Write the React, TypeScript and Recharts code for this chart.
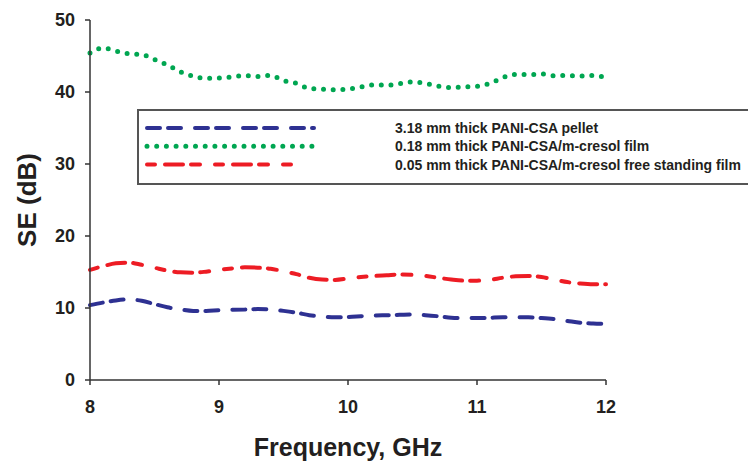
import { LineChart, Line, XAxis, YAxis, Legend } from 'recharts';

const freq = [
    8.0, 8.1, 8.2, 8.3, 8.4, 8.5, 8.6, 8.7, 8.8, 8.9,
    9.0, 9.1, 9.2, 9.3, 9.4, 9.5, 9.6, 9.7, 9.8, 9.9,
    10.0, 10.1, 10.2, 10.3, 10.4, 10.5, 10.6, 10.7, 10.8, 10.9,
    11.0, 11.1, 11.2, 11.3, 11.4, 11.5, 11.6, 11.7, 11.8, 11.9,
    12.0,
];

// 3.18 mm pellet
const pellet = [
    10.4, 10.75, 11.05, 11.2, 11.0, 10.55, 10.1, 9.8, 9.6, 9.6,
    9.7, 9.75, 9.8, 9.85, 9.8, 9.6, 9.35, 9.0, 8.8, 8.7,
    8.75, 8.85, 8.95, 9.0, 9.05, 9.1, 9.0, 8.85, 8.65, 8.6,
    8.6, 8.65, 8.7, 8.7, 8.7, 8.6, 8.45, 8.2, 7.95, 7.85,
    7.8,
];

// 0.18 mm film
const film = [
    45.4, 46.1, 45.7, 45.3, 45.2, 44.5, 43.75, 42.8, 42.2, 41.9,
    41.95, 42.1, 42.3, 42.15, 42.3, 41.6, 41.2, 40.5, 40.4, 40.3,
    40.4, 40.7, 41.0, 40.95, 41.15, 41.4, 41.2, 40.8, 40.6, 40.7,
    40.8, 41.2, 42.0, 42.45, 42.4, 42.5, 42.25, 42.3, 42.2, 42.3,
    42.0,
];

// 0.05 mm free standing film
const freeFilm = [
    15.3, 15.8, 16.2, 16.3, 16.0, 15.6, 15.2, 14.95, 14.9, 15.05,
    15.3, 15.5, 15.65, 15.6, 15.45, 15.1, 14.7, 14.2, 13.95, 13.9,
    14.1, 14.3, 14.45, 14.55, 14.65, 14.6, 14.45, 14.2, 13.95, 13.8,
    13.8, 13.9, 14.2, 14.4, 14.45, 14.3, 13.95, 13.6, 13.4, 13.3,
    13.3,
];

const xTicks = [8, 9, 10, 11, 12];
const yTicks = [0, 10, 20, 30, 40, 50];

const seriesNames = [
    '3.18 mm thick PANI-CSA pellet',
    '0.18 mm thick PANI-CSA/m-cresol film',
    '0.05 mm thick PANI-CSA/m-cresol free standing film',
];

const BLUE = '#2e3192';
const GREEN = '#00a651';
const RED = '#ed1c24';
const INK = '#231f20';
const FONT = '"Liberation Sans", Arial, sans-serif';

const blueDash = '13 8 13 14';
const greenDash = '0 9.7';
const redDash = '8 10 18 8 9 15';

const data = freq.map((f, i) => ({
    f,
    pellet: pellet[i],
    film: film[i],
    freeFilm: freeFilm[i],
}));

const legendRows = [
    { name: seriesNames[0], color: BLUE, dash: blueDash, width: 4, end: 175 },
    { name: seriesNames[1], color: GREEN, dash: greenDash, width: 5, end: 175 },
    { name: seriesNames[2], color: RED, dash: redDash, width: 4, end: 160 },
];

function LegendBox() {
    return (
        <div
            style={{
                width: 611,
                height: 72,
                borderTop: '2px solid #555',
                borderBottom: '2px solid #555',
                borderLeft: '2px solid #555',
                background: '#fff',
                position: 'relative',
                boxSizing: 'content-box',
            }}
        >
            <svg width={200} height={72} style={{ position: 'absolute', left: 0, top: 0 }}>
                {legendRows.map((r, i) => (
                    <line
                        key={i}
                        x1={8}
                        x2={r.end}
                        y1={17 + i * 18.3}
                        y2={17 + i * 18.3}
                        stroke={r.color}
                        strokeWidth={r.width}
                        strokeDasharray={r.dash}
                        strokeLinecap="round"
                    />
                ))}
            </svg>
            {legendRows.map((r, i) => (
                <div
                    key={i}
                    style={{
                        position: 'absolute',
                        left: 256,
                        top: 8 + i * 18.3,
                        fontFamily: FONT,
                        fontWeight: 'bold',
                        fontSize: 14,
                        lineHeight: '18px',
                        color: INK,
                        whiteSpace: 'nowrap',
                    }}
                >
                    {r.name}
                </div>
            ))}
        </div>
    );
}

const tickStyle = { fill: INK, fontSize: 18, fontWeight: 'bold', fontFamily: FONT };

export default function App() {
    return (
        <div style={{ position: 'absolute', left: 0, top: 0, width: 748, height: 462, overflow: 'hidden', background: '#fff' }}>
            <LineChart width={748} height={462} data={data} margin={{ top: 20, right: 142, left: 0, bottom: 0 }}>
                <XAxis
                    dataKey="f"
                    type="number"
                    domain={[8, 12]}
                    ticks={xTicks}
                    height={82}
                    tickSize={5}
                    tickMargin={15}
                    tick={tickStyle}
                    stroke="#333"
                    strokeWidth={1.5}
                    label={{
                        content: (props: any) => {
                            const vb = props.viewBox;
                            return (
                                <text
                                    x={vb.x + vb.width / 2}
                                    y={vb.y + vb.height - 6}
                                    textAnchor="middle"
                                    fill={INK}
                                    fontSize={25}
                                    fontWeight="bold"
                                    fontFamily={FONT}
                                >
                                    Frequency, GHz
                                </text>
                            );
                        },
                    }}
                />
                <YAxis
                    type="number"
                    domain={[0, 50]}
                    ticks={yTicks}
                    width={90}
                    tickSize={5}
                    tickMargin={10}
                    tick={tickStyle}
                    stroke="#333"
                    strokeWidth={1.5}
                    label={{
                        content: (props: any) => {
                            const vb = props.viewBox;
                            const cy = vb.y + vb.height / 2;
                            return (
                                <text
                                    x={27}
                                    y={cy}
                                    transform={`rotate(-90, 27, ${cy})`}
                                    textAnchor="middle"
                                    dominantBaseline="central"
                                    fill={INK}
                                    fontSize={26}
                                    fontWeight="bold"
                                    fontFamily={FONT}
                                >
                                    SE (dB)
                                </text>
                            );
                        },
                    }}
                />
                <Legend
                    layout="vertical"
                    align="center"
                    verticalAlign="middle"
                    content={() => <LegendBox />}
                    wrapperStyle={{ left: 137, top: 109, width: 611, height: 76 }}
                />
                <Line
                    type="monotone"
                    dataKey="film"
                    name={seriesNames[1]}
                    stroke={GREEN}
                    strokeWidth={5}
                    strokeDasharray={greenDash}
                    strokeLinecap="round"
                    dot={false}
                    activeDot={false}
                    isAnimationActive={false}
                />
                <Line
                    type="monotone"
                    dataKey="freeFilm"
                    name={seriesNames[2]}
                    stroke={RED}
                    strokeWidth={4}
                    strokeDasharray={redDash}
                    strokeLinecap="round"
                    dot={false}
                    activeDot={false}
                    isAnimationActive={false}
                />
                <Line
                    type="monotone"
                    dataKey="pellet"
                    name={seriesNames[0]}
                    stroke={BLUE}
                    strokeWidth={4}
                    strokeDasharray={blueDash}
                    strokeLinecap="round"
                    dot={false}
                    activeDot={false}
                    isAnimationActive={false}
                />
            </LineChart>
        </div>
    );
}
